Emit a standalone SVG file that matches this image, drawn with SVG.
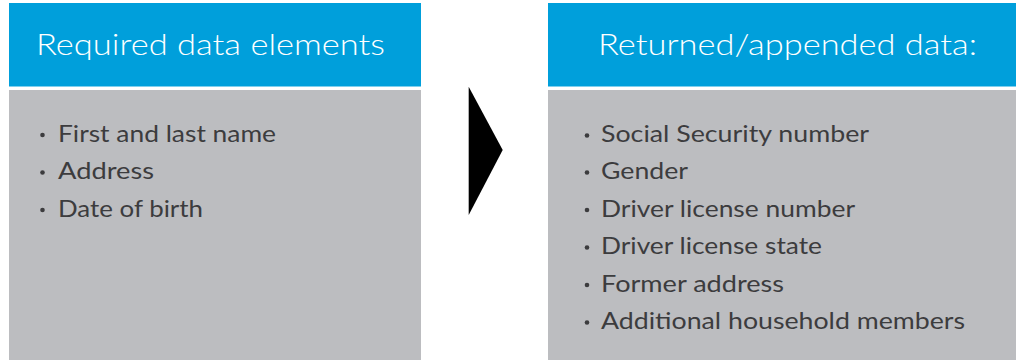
<svg xmlns="http://www.w3.org/2000/svg" width="1016" height="360" viewBox="0 0 1016 360">
<style>
.hdr{fill:#009FDB}
.body{fill:#BCBDC0}
.ht{font-family:Lato,"Open Sans",sans-serif;font-weight:300;font-size:30px;fill:#FFFFFF}
.it{font-family:Lato,"Open Sans",sans-serif;font-size:23px;fill:#3C3C3E}
.dot{fill:#3C3C3E}
</style>
<rect width="1016" height="360" fill="#FFFFFF"/>
<g id="node-required">
<rect class="hdr" x="9" y="3" width="412" height="83.5"/>
<rect class="body" x="9" y="90" width="412" height="270"/>
<text class="ht" x="36" y="55" textLength="349" lengthAdjust="spacingAndGlyphs">Required data elements</text>
<circle class="dot" cx="42.5" cy="135" r="2.3"/>
<text class="it" x="58" y="141.7" textLength="218" lengthAdjust="spacingAndGlyphs">First and last name</text>
<circle class="dot" cx="42.5" cy="172.5" r="2.3"/>
<text class="it" x="58" y="179.2" textLength="96" lengthAdjust="spacingAndGlyphs">Address</text>
<circle class="dot" cx="42.5" cy="210" r="2.3"/>
<text class="it" x="58" y="216.7" textLength="145" lengthAdjust="spacingAndGlyphs">Date of birth</text>
</g>
<g id="connectors">
<polygon points="468.7,86.7 502.7,150 468.7,215" fill="#000000"/>
</g>
<g id="node-returned">
<rect class="hdr" x="548" y="3" width="468" height="83.5"/>
<rect class="body" x="548" y="90" width="468" height="270"/>
<text class="ht" x="598" y="55" textLength="379" lengthAdjust="spacingAndGlyphs">Returned/appended data:</text>
<circle class="dot" cx="587" cy="135.5" r="2.3"/>
<text class="it" x="601" y="142.3" textLength="268" lengthAdjust="spacingAndGlyphs">Social Security number</text>
<circle class="dot" cx="587" cy="172.5" r="2.3"/>
<text class="it" x="601" y="179.3" textLength="87" lengthAdjust="spacingAndGlyphs">Gender</text>
<circle class="dot" cx="587" cy="210" r="2.3"/>
<text class="it" x="601" y="216.7" textLength="254" lengthAdjust="spacingAndGlyphs">Driver license number</text>
<circle class="dot" cx="587" cy="247.5" r="2.3"/>
<text class="it" x="601" y="254.2" textLength="221" lengthAdjust="spacingAndGlyphs">Driver license state</text>
<circle class="dot" cx="587" cy="285" r="2.3"/>
<text class="it" x="601" y="291.7" textLength="183" lengthAdjust="spacingAndGlyphs">Former address</text>
<circle class="dot" cx="587" cy="322.5" r="2.3"/>
<text class="it" x="601" y="329.3" textLength="364" lengthAdjust="spacingAndGlyphs">Additional household members</text>
</g>
</svg>
